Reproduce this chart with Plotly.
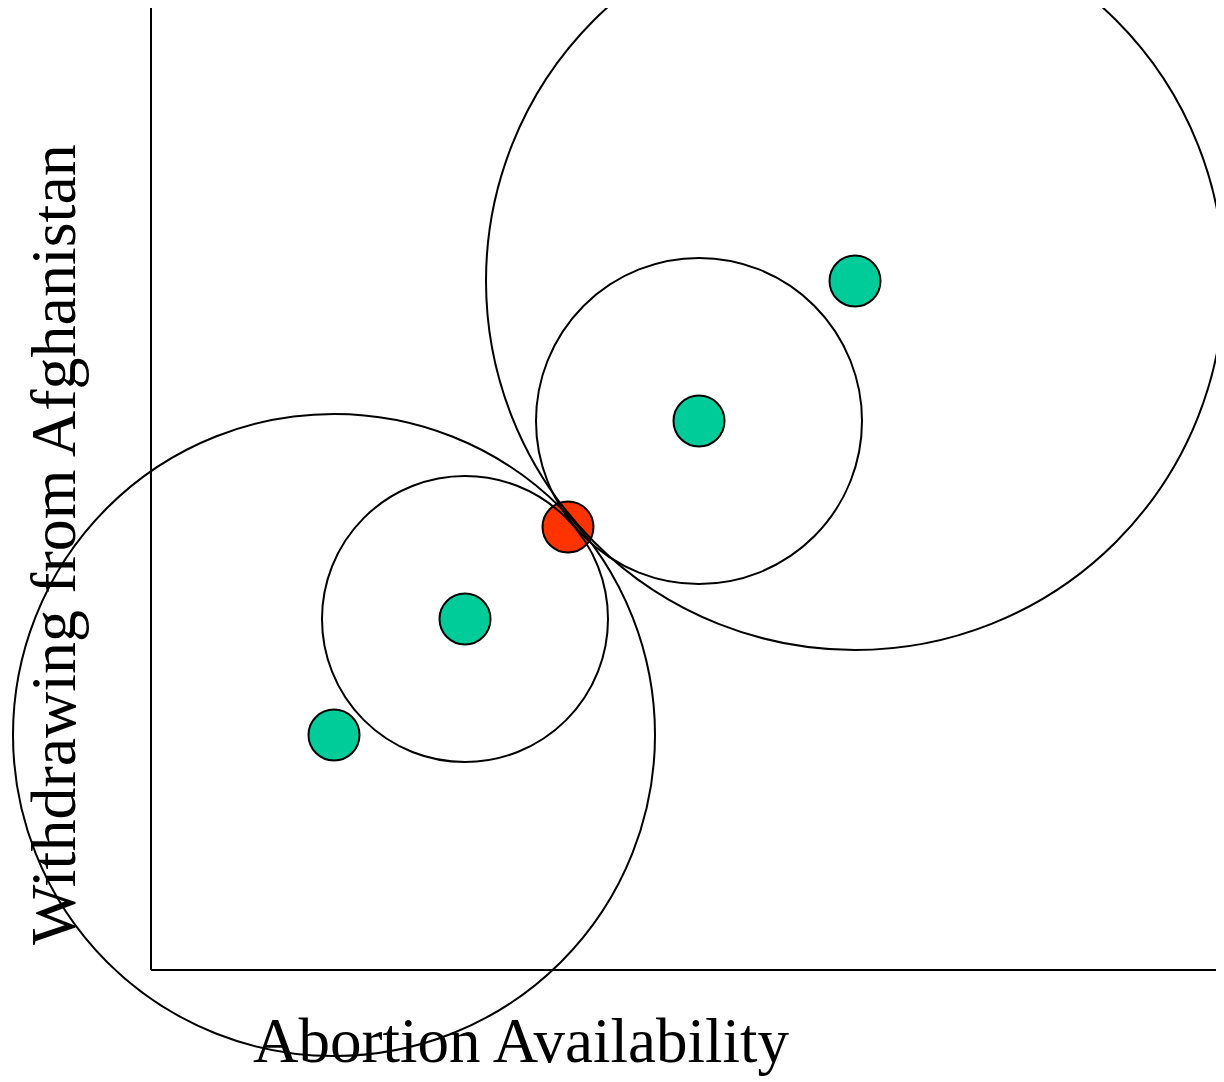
import plotly.graph_objects as go

# Data (units: 1 unit = 100 px, origin at the axis corner)
voter_x = [7.04, 5.48, 3.14, 1.83]
voter_y = [6.89, 5.49, 3.51, 2.35]
indiff_radius = [3.69, 1.63, 1.43, 3.21]   # indifference curves through status quo
sq_x = [4.17]
sq_y = [4.43]
x_axis_len = 10.71
y_axis_len = 9.65
x_title = "Abortion Availability"
y_title = "Withdrawing from Afghanistan"

# page has an 8px body margin; size the figure to the remaining viewport
OFF = 8
W, H = 1224 - OFF, 1082 - OFF
PX = 100.0
ox, oy = 151 - OFF, 970 - OFF

fig = go.Figure()

# voter ideal points
fig.add_trace(go.Scatter(
    x=voter_x, y=voter_y, mode="markers",
    marker=dict(size=51, color="#00CC99", line=dict(color="black", width=2)),
    hoverinfo="skip", showlegend=False))
# status quo
fig.add_trace(go.Scatter(
    x=sq_x, y=sq_y, mode="markers",
    marker=dict(size=51, color="#FF3300", line=dict(color="black", width=2)),
    hoverinfo="skip", showlegend=False))

shapes = []
# axes
shapes.append(dict(type="line", x0=0, y0=0, x1=0, y1=y_axis_len,
                   line=dict(color="black", width=2), layer="above"))
shapes.append(dict(type="line", x0=0, y0=0, x1=x_axis_len, y1=0,
                   line=dict(color="black", width=2), layer="above"))
# circles
for cx, cy, r in zip(voter_x, voter_y, indiff_radius):
    shapes.append(dict(type="circle", xref="x", yref="y",
                       x0=cx - r, x1=cx + r, y0=cy - r, y1=cy + r,
                       line=dict(color="black", width=2), layer="above"))

fig.update_layout(
    width=W, height=H, autosize=False,
    margin=dict(l=0, r=0, t=0, b=0, pad=0),
    paper_bgcolor="white", plot_bgcolor="white",
    xaxis=dict(range=[-ox / PX, (W - ox) / PX], visible=False, fixedrange=True),
    yaxis=dict(range=[(oy - H) / PX, oy / PX], visible=False, fixedrange=True),
    shapes=shapes,
    annotations=[
        dict(text=x_title, xref="paper", yref="paper",
             x=(521 - OFF) / W, y=1 - (1041 - OFF) / H, xanchor="center", yanchor="middle",
             showarrow=False,
             font=dict(family="Liberation Serif, Times New Roman, serif", size=63, color="black")),
        dict(text=y_title, xref="paper", yref="paper",
             x=(53 - OFF) / W, y=1 - (545 - OFF) / H, xanchor="center", yanchor="middle",
             textangle=-90, showarrow=False,
             font=dict(family="Liberation Serif, Times New Roman, serif", size=64, color="black")),
    ],
)

fig.write_html("out.html")
